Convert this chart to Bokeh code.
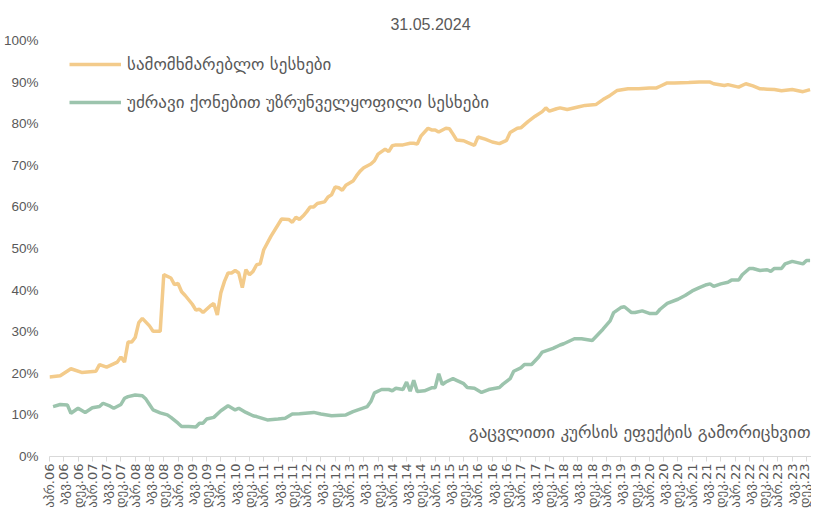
from math import pi
from bokeh.plotting import figure
from bokeh.models import Range1d, FixedTicker, Legend, LegendItem, Label
from bokeh.embed import file_html
from bokeh.resources import INLINE

# ---- data (months counted from Apr 2006) ----
title_text = "31.05.2024"
series_names = ["სამომხმარებლო სესხები", "უძრავი ქონებით უზრუნველყოფილი სესხები"]
note_text = "გაცვლითი კურსის ეფექტის გამორიცხვით"

consumer_month = [0, 3, 6, 9, 13, 14, 16, 19, 20, 21, 22, 23, 24, 25, 26, 28, 29, 31, 32, 34,
                  35, 36, 37, 38, 40, 41, 42, 43, 45, 46, 47, 48, 49, 50, 51, 52, 53, 54, 55, 56,
                  57, 58, 59, 60, 62, 65, 67, 68, 69, 70, 71, 72, 73, 74, 75, 77, 78, 79, 80, 81,
                  82, 83, 85, 86, 87, 88, 90, 91, 92, 94, 95, 96, 97, 99, 101, 102, 103, 104, 106, 107,
                  108, 109, 111, 112, 113, 114, 116, 117, 119, 120, 122, 124, 126, 128, 129, 131, 132, 134, 136, 138,
                  139, 140, 142, 143, 145, 148, 150, 153, 155, 157, 159, 162, 165, 168, 170, 171, 173, 175, 179, 182,
                  185, 186, 189, 190, 193, 195, 197, 199, 201, 203, 205, 208, 211, 213]
consumer_share = [19.1, 19.4, 21.1, 20.2, 20.5, 22.1, 21.5, 22.7, 23.9, 22.7, 27.5, 27.5, 28.6, 32.2, 33.2, 31.4, 30.1, 30.1, 43.7, 42.9,
                  41.3, 41.6, 39.6, 38.7, 36.6, 35.2, 35.4, 34.6, 36.2, 36.8, 34.0, 39.4, 42.1, 44.1, 44.1, 44.7, 44.1, 40.6, 44.9, 43.7,
                  44.5, 46.1, 46.3, 49.7, 52.9, 57.1, 57.0, 56.3, 57.5, 57.0, 57.8, 58.8, 60.0, 60.0, 60.8, 61.2, 62.4, 62.9, 64.8, 64.6,
                  64.0, 65.2, 66.2, 67.5, 68.6, 69.4, 70.3, 71.1, 72.7, 73.9, 73.3, 74.7, 74.9, 74.9, 75.3, 75.3, 75.1, 77.0, 78.9, 78.5,
                  78.5, 78.0, 78.9, 78.8, 77.5, 76.1, 75.9, 75.5, 74.8, 76.8, 76.3, 75.6, 75.2, 76.0, 77.9, 78.9, 79.0, 80.5, 81.8, 82.9,
                  83.8, 83.0, 83.6, 83.8, 83.4, 84.0, 84.4, 84.6, 85.8, 86.8, 88.0, 88.4, 88.4, 88.6, 88.6, 89.0, 89.8, 89.8, 89.9, 90.0,
                  90.0, 89.6, 89.2, 89.4, 88.8, 89.6, 89.1, 88.4, 88.3, 88.2, 87.9, 88.2, 87.7, 88.2]

mortgage_month = [1, 3, 5, 6, 8, 10, 12, 14, 15, 17, 18, 20, 21, 22, 24, 26, 27, 28, 29, 31,
                  33, 34, 36, 37, 39, 41, 42, 43, 44, 46, 48, 50, 52, 53, 55, 57, 58, 61, 64, 66,
                  68, 70, 74, 76, 79, 83, 85, 87, 89, 90, 91, 93, 95, 96, 97, 99, 100, 101, 102, 103,
                  105, 107, 108, 109, 110, 111, 113, 114, 116, 117, 119, 121, 123, 126, 127, 129, 130, 132, 133, 135,
                  137, 138, 141, 143, 144, 147, 149, 152, 153, 155, 157, 158, 160, 161, 163, 164, 166, 168, 170, 171,
                  173, 176, 178, 180, 182, 184, 185, 186, 188, 190, 191, 193, 194, 196, 197, 199, 201, 202, 203, 205,
                  206, 208, 211, 212, 213]
mortgage_share = [12.0, 12.5, 12.4, 10.4, 11.6, 10.6, 11.7, 12.0, 12.8, 12.1, 11.6, 12.5, 14.0, 14.4, 14.8, 14.6, 13.8, 12.5, 11.2, 10.5,
                  10.0, 9.4, 8.0, 7.2, 7.2, 7.1, 8.0, 8.0, 9.0, 9.4, 11.0, 12.2, 11.2, 11.6, 10.6, 9.8, 9.6, 8.8, 9.0, 9.2,
                  10.2, 10.3, 10.6, 10.2, 9.8, 10.0, 10.8, 11.4, 12.0, 13.2, 15.3, 16.1, 16.1, 15.8, 16.4, 16.1, 17.9, 15.7, 18.3, 15.6,
                  15.8, 16.5, 16.5, 19.9, 17.3, 17.9, 18.7, 18.3, 17.5, 16.6, 16.4, 15.4, 16.1, 16.6, 17.4, 18.7, 20.5, 21.3, 22.1, 22.1,
                  23.9, 25.1, 26.0, 26.8, 27.1, 28.3, 28.3, 27.9, 28.8, 30.6, 32.6, 34.6, 35.8, 36.0, 34.6, 34.6, 35.0, 34.4, 34.4, 35.4,
                  36.8, 37.8, 38.7, 39.8, 40.6, 41.3, 41.5, 40.9, 41.5, 41.9, 42.4, 42.4, 43.7, 45.2, 45.2, 44.7, 44.9, 44.5, 45.2, 45.2,
                  46.3, 46.9, 46.3, 47.1, 47.1]

assert len(consumer_month) == len(consumer_share)
assert len(mortgage_month) == len(mortgage_share)

# tick labels: every 4 months from Apr 2006
tick_month_abbr = ["აპრ", "აგვ", "დეკ"]
tick_years = list(range(2006, 2024))
tick_months = []
tick_labels = []
for yi, yr in enumerate(tick_years):
    for mi, ab in enumerate(tick_month_abbr):
        tick_months.append(yi * 12 + mi * 4)
        tick_labels.append(f"{ab}.{yr % 100:02d}")

y_ticks = list(range(0, 101, 10))
y_labels = [f"{v}%" for v in y_ticks]

# ---- styling ----
orange = "#F3CB8B"
green = "#9CC4AD"
text_gray = "#595959"
axis_gray = "#D9D9D9"
geo_font = "DejaVu Sans"

p = figure(width=811, height=516, output_backend="svg", toolbar_location=None,
           x_range=Range1d(0, 213.4), y_range=Range1d(0, 100),
           min_border_left=48, min_border_right=0, min_border_top=40, min_border_bottom=60)

p.title.text = title_text
p.title.align = "center"
p.title.text_font = "Liberation Sans"
p.title.text_font_size = "16px"
p.title.text_font_style = "normal"
p.title.text_color = text_gray
p.title.standoff = 22

r1 = p.line(consumer_month, consumer_share, line_color=orange, line_width=3.5)
r2 = p.line(mortgage_month, mortgage_share, line_color=green, line_width=3.5)

p.xgrid.visible = False
p.ygrid.visible = False
p.outline_line_color = None
p.background_fill_color = "white"
p.border_fill_color = "white"

xa = p.xaxis[0]
xa.ticker = FixedTicker(ticks=tick_months)
xa.major_label_overrides = dict(zip(tick_months, tick_labels))
xa.major_label_orientation = pi / 2
xa.major_label_text_font = geo_font
xa.major_label_text_font_size = "13px"
xa.major_label_text_color = text_gray
xa.major_label_standoff = 2
xa.axis_line_color = axis_gray
xa.major_tick_line_color = axis_gray
xa.major_tick_in = 0
xa.major_tick_out = 5
xa.minor_tick_line_color = None

ya = p.yaxis[0]
ya.ticker = FixedTicker(ticks=y_ticks)
ya.major_label_overrides = dict(zip(y_ticks, y_labels))
ya.major_label_text_font = "Liberation Sans"
ya.major_label_text_font_size = "13.5px"
ya.major_label_text_color = text_gray
ya.major_label_standoff = 11
ya.axis_line_color = None
ya.major_tick_line_color = None
ya.major_tick_in = 0
ya.major_tick_out = 0
ya.minor_tick_line_color = None

legend = Legend(items=[LegendItem(label=series_names[0], renderers=[r1]),
                       LegendItem(label=series_names[1], renderers=[r2])],
                location=(20, 344), padding=0, margin=0, spacing=18,
                glyph_width=52, glyph_height=20, label_height=20, label_standoff=6,
                label_text_font=geo_font, label_text_font_size="17px",
                label_text_color=text_gray, border_line_color=None,
                background_fill_alpha=0)
p.add_layout(legend)

note = Label(x=213.4, y=6, text=note_text, text_align="right", text_baseline="middle",
             x_offset=-1, text_font=geo_font, text_font_size="17px", text_color=text_gray)
p.add_layout(note)

open("out.html", "w").write(file_html(p, INLINE))
